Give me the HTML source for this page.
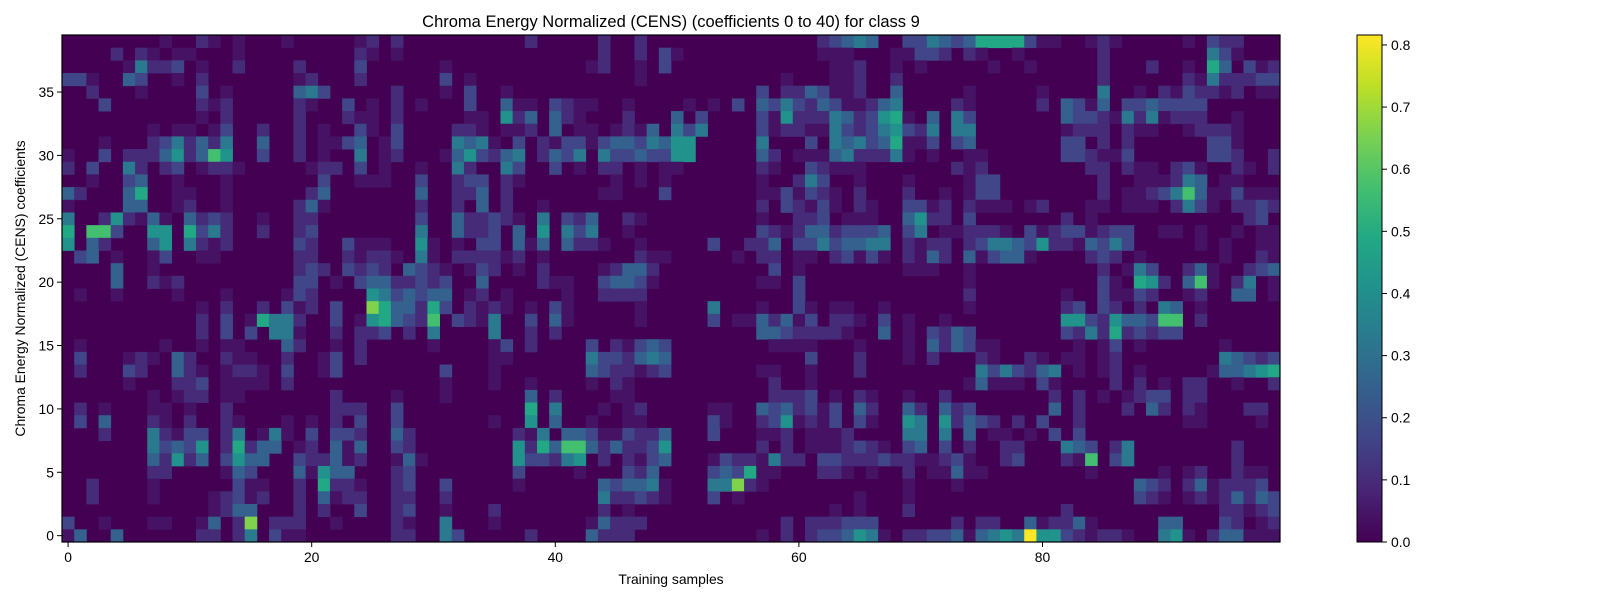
<!DOCTYPE html>
<html>
<head>
<meta charset="utf-8">
<style>
html,body{margin:0;padding:0;background:#fff;}
svg{display:block;}
text{font-family:"Liberation Sans","DejaVu Sans",sans-serif;fill:#000;}
</style>
</head>
<body>
<svg id="chart" width="1600" height="600" viewBox="0 0 1600 600" xmlns="http://www.w3.org/2000/svg">
  <text x="671" y="27" font-size="16.5" text-anchor="middle">Chroma Energy Normalized (CENS) (coefficients 0 to 40) for class 9</text>
  <g id="cells"></g>
  <rect x="62" y="35" width="1218" height="507" fill="none" stroke="#000" stroke-width="1.2"/>
  <g id="xaxis"></g>
  <g id="yaxis"></g>
  <text x="671" y="584" font-size="13.9" text-anchor="middle">Training samples</text>
  <text x="0" y="0" font-size="13.9" text-anchor="middle" transform="translate(25,288.5) rotate(-90)">Chroma Energy Normalized (CENS) coefficients</text>
  <defs>
    <linearGradient id="vgrad" x1="0" y1="1" x2="0" y2="0"></linearGradient>
  </defs>
  <rect x="1357" y="35" width="25" height="507" fill="url(#vgrad)" stroke="#000" stroke-width="1"/>
  <g id="cbaxis"></g>
</svg>
<script>
// ---- data ----
const nCols = 100;
const nRows = 40;
const vmax = 0.816;
// intensity level -> value
const levelValues = [0, 0.04, 0.1, 0.17, 0.25, 0.33, 0.41, 0.49, 0.57, 0.66, 0.815];
const xTicks = [0, 20, 40, 60, 80];
const yTicks = [0, 5, 10, 15, 20, 25, 30, 35];
const cbTicks = [0.0, 0.1, 0.2, 0.3, 0.4, 0.5, 0.6, 0.7, 0.8];
// rows listed from top (coefficient 39) to bottom (coefficient 0); "column:level"
const rowData = [
"8:1 11:2 12:1 14:1 18:1 24:1 25:2 27:2 38:2 44:2 47:2 62:2 63:3 64:4 65:5 66:4 69:3 70:3 71:5 72:4 73:3 74:4 75:7 76:7 77:7 78:7 79:3 80:1 81:1 84:1 85:2 86:1 92:1 94:3 95:2 96:2",
"4:2 6:2 7:1 9:1 10:1 14:1 24:2 25:1 27:1 44:2 47:2 49:3 50:1 62:1 63:1 64:1 68:1 69:1 70:3 71:3 72:2 74:2 75:1 78:1 85:2 94:5 95:3 96:1",
"5:1 6:5 7:2 8:2 9:3 11:1 14:2 19:2 24:3 31:1 43:1 44:2 47:1 49:3 63:1 64:1 65:2 68:1 70:1 76:1 79:1 85:2 89:2 92:1 94:7 95:4 97:3 98:1 99:2",
"0:3 1:3 2:1 5:4 6:3 9:1 11:2 19:1 20:2 24:2 31:3 33:1 47:1 59:1 63:1 64:1 65:2 68:2 85:2 92:2 93:1 94:5 95:2 96:2 97:2 98:3 99:3",
"2:2 6:1 11:3 13:1 19:4 20:5 21:3 27:2 31:1 33:3 36:1 57:3 59:2 60:2 61:4 62:3 63:1 64:1 65:2 68:4 74:1 80:1 85:5 88:1 90:2 91:1 92:3 93:2 94:2 95:1 96:2 98:1 99:1",
"3:3 11:2 12:1 13:2 19:2 20:1 23:3 25:1 27:2 29:1 33:3 36:4 37:1 38:1 40:3 41:2 42:1 43:1 46:1 51:1 53:1 55:3 57:4 58:3 59:5 60:3 61:2 62:4 63:3 64:1 65:1 66:2 67:4 68:5 73:2 74:1 80:2 82:4 83:3 84:1 85:4 87:3 88:3 89:4 90:3 91:3 92:3 93:3",
"11:1 13:2 19:2 23:2 24:1 25:1 27:2 33:1 34:1 36:6 37:2 38:4 40:4 41:2 42:1 46:2 50:4 52:3 57:3 58:1 59:6 60:2 61:2 62:2 63:5 64:4 65:2 66:3 67:6 68:7 69:1 71:4 73:5 74:3 82:4 83:3 84:3 85:2 86:1 87:5 88:2 89:5 90:1 91:2 92:2 93:2 96:1",
"7:1 9:1 10:1 12:1 13:3 16:2 19:2 21:1 24:3 25:1 27:3 32:2 33:2 34:1 36:1 37:1 38:2 40:4 42:1 43:1 45:1 46:2 47:1 48:4 50:5 51:3 52:5 57:3 58:1 59:2 60:2 61:1 62:1 63:5 64:3 65:2 66:3 67:5 68:6 69:3 70:2 71:5 73:5 74:5 82:1 83:2 84:2 85:2 87:2 88:1 89:1 92:1 93:2 94:2 95:2 96:1",
"3:1 7:2 8:3 9:5 10:2 11:4 12:2 13:5 16:4 19:2 21:1 22:1 23:3 24:4 26:1 27:3 32:5 33:4 34:5 35:1 37:3 39:2 40:1 41:3 42:3 43:1 44:3 45:4 46:4 47:3 48:5 49:4 50:6 51:6 57:5 61:3 63:5 64:4 65:5 66:3 67:4 68:7 69:1 70:1 71:3 73:3 74:4 82:3 83:3 85:2 87:2 94:3 95:3 96:1",
"0:1 3:3 5:2 6:2 7:2 8:4 9:6 10:2 11:4 12:8 13:6 16:3 19:2 21:1 24:5 26:1 27:2 31:1 32:4 33:6 34:3 35:2 36:4 37:5 39:2 40:4 41:3 42:5 44:5 45:3 46:3 47:4 48:3 49:3 50:6 51:6 57:4 58:2 60:1 61:1 62:1 63:4 64:5 65:2 66:2 67:2 68:5 69:1 71:1 74:1 75:1 82:3 83:3 84:2 85:1 86:1 87:3 94:3 95:3 96:2 99:2",
"0:2 2:3 5:5 6:2 8:2 9:3 11:1 12:2 13:2 14:1 20:1 21:2 22:2 24:3 26:1 29:1 32:5 33:2 36:5 37:3 40:3 42:1 44:2 45:2 47:1 49:1 50:1 57:2 58:1 61:3 62:2 63:1 64:1 65:1 73:2 74:1 75:2 84:2 85:2 87:2 88:1 89:1 91:2 92:3 93:1 96:2 97:1 99:2",
"2:1 5:3 6:4 9:1 13:1 21:3 24:1 25:1 26:1 29:3 32:2 33:3 34:3 36:2 37:1 45:1 47:1 49:1 57:1 60:2 61:5 62:3 65:1 69:1 74:1 75:3 76:3 85:2 88:1 89:1 90:1 91:2 92:5 93:4 95:1 96:1",
"0:4 1:2 5:4 6:7 9:1 10:1 13:1 20:2 21:4 29:4 32:2 33:2 34:4 36:2 44:1 45:1 49:3 57:1 58:1 59:3 60:1 61:3 62:2 63:1 65:2 69:2 72:1 74:1 75:3 76:3 85:2 87:1 88:1 89:2 90:3 91:5 92:8 93:4 94:1 95:1 96:3 97:1 98:1 99:1",
"0:1 5:4 6:4 9:1 10:2 13:1 19:2 20:4 21:1 29:2 32:2 34:4 36:2 39:1 57:2 59:3 60:2 61:1 62:3 63:1 65:2 66:1 69:3 70:3 71:1 72:2 74:2 75:1 76:1 77:1 79:1 80:2 84:1 85:1 87:1 88:1 89:1 91:2 92:5 93:3 94:1 96:2 97:2 98:3 99:2",
"0:5 3:2 4:6 5:2 6:1 7:4 8:1 10:4 11:2 12:3 13:2 16:1 19:2 20:2 29:3 32:4 33:2 34:2 35:3 36:2 37:1 39:5 41:3 42:2 43:4 46:2 47:1 57:1 60:2 61:2 62:3 64:1 65:1 66:1 69:4 70:6 71:2 72:2 74:3 82:2 84:1 97:2 98:3",
"0:7 2:8 3:8 4:3 7:6 8:6 10:7 11:3 12:5 13:2 16:2 19:2 20:3 29:5 32:4 33:2 34:2 35:3 37:4 39:6 41:5 42:3 43:5 46:1 57:3 58:2 59:1 60:2 61:4 62:4 63:2 64:3 65:3 66:3 67:4 69:3 70:5 72:1 73:1 74:2 75:2 76:2 77:1 79:3 80:1 81:2 82:3 83:3 84:1 85:2 86:3 87:3 90:1 91:1 93:1 96:1 98:1 99:1",
"0:6 2:4 3:2 7:4 8:6 10:5 11:2 12:1 13:2 19:3 20:2 23:3 24:1 25:1 26:1 29:6 30:1 32:1 34:3 35:3 37:4 38:1 39:4 41:4 42:2 43:2 44:1 47:1 53:3 56:2 57:2 58:4 60:3 61:3 62:5 63:3 64:4 65:4 66:5 67:5 69:2 70:1 71:2 72:2 74:2 75:3 76:5 77:5 78:4 79:3 80:6 81:2 82:2 83:1 84:4 85:3 86:5 87:3 93:1 95:1 98:1 99:1",
"1:3 2:4 4:1 7:1 8:3 11:1 12:1 19:2 20:2 23:2 24:1 25:2 26:2 27:1 29:5 30:1 32:2 33:2 34:2 35:2 36:1 37:2 39:1 47:2 48:1 49:1 55:1 57:2 58:2 60:1 61:1 63:2 64:3 65:1 66:3 67:1 69:2 70:1 71:4 72:2 74:4 75:1 76:3 77:4 78:4 79:1 84:2 85:3 86:2 88:1 95:1 98:2 99:1",
"4:4 7:1 19:2 20:3 21:2 23:3 24:2 25:3 26:2 28:4 29:3 30:2 31:1 33:1 34:3 35:2 37:1 39:2 44:1 45:2 46:4 47:4 48:2 58:3 60:1 69:1 70:1 71:1 74:1 85:2 87:1 88:5 89:3 92:2 93:4 94:1 97:2 98:3 99:4",
"4:4 7:2 8:1 9:2 19:3 20:3 22:1 24:3 25:4 26:4 27:2 28:2 29:3 30:2 31:3 34:4 39:2 40:1 41:1 44:3 45:4 46:4 47:3 48:1 57:1 58:1 60:3 74:1 85:3 86:1 88:7 89:6 90:2 92:4 93:8 94:1 96:2 97:5 99:1",
"1:1 4:1 9:1 13:1 18:1 19:3 20:2 25:6 26:5 27:3 28:4 29:3 30:4 31:4 33:1 34:2 36:1 41:1 44:2 45:2 46:2 47:2 60:3 74:2 82:1 85:3 86:1 87:1 88:3 89:2 92:1 93:2 96:4 97:4 99:1",
"11:1 13:2 16:2 18:3 19:1 20:2 22:3 25:9 26:7 27:4 28:4 29:2 30:7 31:3 33:2 34:1 35:2 36:1 38:1 40:3 41:1 47:1 53:5 57:1 60:3 61:1 63:1 64:1 67:1 74:1 82:2 83:3 85:3 86:2 88:2 90:5 91:4 93:1",
"11:2 13:3 15:1 16:7 17:5 18:5 19:2 22:3 24:1 25:6 26:7 27:4 28:3 29:2 30:8 32:3 33:2 34:1 35:5 38:3 40:4 41:1 47:1 53:3 55:1 56:1 57:4 58:2 59:4 60:1 61:3 63:2 64:2 65:1 67:3 69:1 72:1 82:6 83:6 84:3 85:2 86:6 87:4 88:4 89:3 90:8 91:8 93:2",
"11:2 13:3 15:3 17:5 18:5 19:1 22:2 24:2 25:2 26:3 28:2 30:5 35:5 38:2 40:2 57:4 58:4 59:3 60:2 61:2 62:2 63:2 64:1 67:4 69:1 71:3 72:2 73:4 74:3 82:3 83:2 84:5 85:2 86:7 87:2 88:3 89:2 90:3 91:3",
"1:1 8:1 11:1 13:1 14:1 18:4 19:2 22:1 24:2 30:1 35:1 36:3 38:2 43:3 45:2 46:1 47:3 48:4 49:3 58:1 59:1 60:1 61:1 65:1 69:1 71:4 72:2 73:4 74:3 75:1 76:1 83:1 85:1 86:3 88:1 95:1",
"1:3 5:1 6:2 7:1 9:4 10:2 13:2 14:1 15:1 18:2 21:1 22:3 24:2 35:1 36:1 43:5 44:3 45:3 46:2 47:4 48:5 49:4 61:3 65:2 69:1 71:2 75:2 76:1 79:2 80:1 82:1 83:1 85:1 86:2 95:5 96:4 97:3 98:2 99:3",
"1:2 5:3 6:2 9:4 10:2 11:1 13:1 14:2 15:2 16:1 18:3 21:1 22:3 31:3 35:1 43:4 44:3 45:2 46:2 47:1 48:2 49:3 57:1 58:1 61:1 65:2 75:5 76:3 77:5 78:3 79:2 80:4 81:5 83:1 85:1 86:2 88:1 94:1 95:4 96:4 97:5 98:6 99:7",
"5:1 9:2 10:2 11:3 13:1 14:1 15:1 16:1 18:2 31:1 35:1 38:1 43:1 45:2 46:1 58:2 61:1 74:1 75:4 76:1 77:1 78:1 80:3 81:1 86:2 88:2 90:1 92:2 93:2 96:1 99:2",
"7:1 9:1 10:2 11:2 13:1 14:1 22:2 27:1 31:1 38:4 40:2 45:1 46:1 58:2 59:2 60:2 61:3 63:1 65:2 66:1 69:1 72:2 81:2 83:2 85:1 87:1 88:2 89:3 90:3 92:2 93:2",
"1:2 3:1 7:1 8:1 10:1 13:2 22:2 23:2 24:2 27:3 38:7 40:5 44:1 46:1 47:2 53:1 54:1 57:4 58:3 59:4 60:2 61:3 62:1 63:3 65:4 66:2 69:4 70:2 72:4 73:2 74:3 81:4 83:2 87:2 89:4 90:2 92:2 93:1 97:2 98:2",
"1:3 3:4 7:2 8:1 10:2 13:2 14:1 18:1 20:1 22:2 24:3 27:3 35:1 38:6 40:4 43:1 46:1 47:1 53:3 54:1 57:2 58:3 59:6 60:1 61:2 62:1 63:3 65:3 66:1 69:6 70:5 72:6 73:2 74:4 75:3 76:2 78:2 80:3 83:2 92:1 93:1 98:1",
"3:2 7:5 8:2 9:1 10:3 11:3 13:2 14:5 16:1 17:5 18:1 20:3 22:3 23:3 24:2 27:4 28:2 37:2 38:1 39:5 41:4 42:4 43:3 44:1 45:1 46:3 47:2 48:2 49:4 53:3 57:1 58:1 59:2 61:1 62:1 63:1 64:2 69:5 70:5 72:5 74:4 76:1 77:1 79:1 81:3 83:3",
"7:5 8:3 9:4 10:3 11:6 13:2 14:7 15:2 16:4 17:4 19:1 20:2 22:4 23:1 24:4 27:3 28:2 37:6 38:2 39:7 40:4 41:8 42:8 43:4 44:2 45:4 46:2 47:2 48:3 49:6 57:2 59:2 61:1 62:1 63:1 64:2 65:3 66:2 67:1 69:3 70:4 72:3 74:2 77:2 78:2 82:5 83:4 84:3 86:2 87:5 96:2",
"7:4 8:2 9:6 10:2 11:4 13:3 14:6 15:4 16:4 19:3 20:2 21:2 22:4 23:1 24:2 27:1 28:4 29:1 37:6 38:3 39:3 40:2 41:5 42:6 44:2 46:2 47:1 48:3 49:4 53:1 54:3 55:2 56:2 57:1 58:5 59:2 60:2 62:3 63:3 64:2 65:2 66:2 67:3 68:2 69:2 70:1 71:1 72:2 73:3 74:1 77:2 78:3 82:2 83:1 84:8 86:3 87:5 96:2",
"7:2 8:2 13:1 14:4 15:3 19:4 20:1 21:6 22:4 23:4 27:2 28:3 37:3 42:1 46:3 47:2 48:4 53:3 54:4 55:3 56:7 57:1 58:1 62:2 63:2 64:1 66:1 69:2 71:1 72:1 73:4 74:1 75:1 84:1 90:1 92:1 93:2 96:2 97:1 98:1",
"2:2 7:1 14:3 15:1 16:1 19:2 21:7 22:2 23:2 24:1 27:2 28:3 31:3 37:1 44:4 45:3 46:4 47:4 48:5 49:1 53:5 54:5 55:9 56:2 57:1 69:1 73:1 88:4 89:3 90:2 92:2 93:4 94:1 95:2 96:2 97:2 98:3",
"2:2 7:1 12:1 13:2 14:3 15:1 16:2 19:2 21:4 22:1 23:2 24:2 27:2 28:2 31:2 44:5 45:2 46:2 47:3 48:2 49:1 53:3 55:1 65:1 69:1 88:3 89:2 90:1 92:1 93:2 94:1 95:2 96:4 97:2 98:4 99:3",
"12:1 13:2 14:4 15:4 19:2 21:2 24:3 27:2 28:3 31:1 35:2 44:2 46:1 63:1 65:1 69:2 82:2 95:2 96:2 97:1 98:2 99:3",
"0:3 3:1 7:1 8:1 11:1 12:4 14:2 15:9 17:2 18:2 19:2 22:1 27:2 28:1 31:5 35:1 43:1 44:4 45:2 46:2 47:2 59:2 61:2 62:2 63:2 64:3 65:3 66:3 73:2 75:2 76:2 79:4 80:1 81:2 82:2 83:4 84:1 90:4 91:4 95:3 96:2 98:1 99:2",
"0:1 1:4 4:4 11:2 12:2 14:2 15:5 17:3 18:1 19:1 27:2 28:2 31:5 32:3 38:2 43:4 44:2 45:2 46:2 57:1 59:2 61:2 62:3 63:3 64:4 65:6 66:5 67:1 69:2 70:2 71:3 72:3 73:4 74:1 75:4 76:5 77:6 78:5 79:10 80:6 81:6 82:3 83:2 84:1 85:2 86:2 87:1 90:5 91:6 92:1 94:2 95:4 96:4 97:1 98:1 99:1"
];

// ---- geometry ----
const plotL = 62, plotT = 35, plotW = 1218, plotH = 507;
const cw = plotW / nCols, ch = plotH / nRows;
function xPos(col){ return plotL + col * cw; }             // left edge of column
function xCenter(col){ return plotL + (col + 0.5) * cw; }
function yTop(row){ return plotT + plotH - (row + 1) * ch; } // row 0 at bottom
function yCenter(row){ return plotT + plotH - (row + 0.5) * ch; }

const vStops = ["#440154","#482475","#414487","#355f8d","#2a788e","#21918c","#22a884","#44bf70","#7ad151","#bddf26","#fde725"];
function hex2rgb(h){ return [parseInt(h.slice(1,3),16),parseInt(h.slice(3,5),16),parseInt(h.slice(5,7),16)]; }
const vRGB = vStops.map(hex2rgb);
function viridis(t){
  t = Math.max(0, Math.min(1, t));
  const p = t * 10, i = Math.min(9, Math.floor(p)), f = p - i;
  const a = vRGB[i], b = vRGB[i+1];
  return "rgb(" + [0,1,2].map(k => Math.round(a[k] + (b[k]-a[k]) * f)).join(",") + ")";
}

const NS = "http://www.w3.org/2000/svg";
const cells = document.getElementById("cells");

// background: all cells at value 0
const bg = document.createElementNS(NS, "rect");
bg.setAttribute("x", plotL); bg.setAttribute("y", plotT);
bg.setAttribute("width", plotW); bg.setAttribute("height", plotH);
bg.setAttribute("fill", viridis(0));


cells.appendChild(bg);

rowData.forEach((str, j) => {
  const row = nRows - 1 - j;
  str.trim().split(/\s+/).forEach(tok => {
    const parts = tok.split(":");
    const col = +parts[0], lvl = +parts[1];
    const val = levelValues[lvl];
    if (!val) return;
    const r = document.createElementNS(NS, "rect");
    r.setAttribute("x", xPos(col).toFixed(2));
    r.setAttribute("y", yTop(row).toFixed(2));
    r.setAttribute("width", (cw + 0.4).toFixed(2));
    r.setAttribute("height", (ch + 0.4).toFixed(2));
    r.setAttribute("fill", viridis(val / vmax));
    
    
    cells.appendChild(r);
  });
});

// x axis
const xaxis = document.getElementById("xaxis");
xTicks.forEach(t => {
  const x = xCenter(t);
  const l = document.createElementNS(NS, "line");
  l.setAttribute("x1", x); l.setAttribute("x2", x);
  l.setAttribute("y1", plotT + plotH); l.setAttribute("y2", plotT + plotH + 5);
  l.setAttribute("stroke", "#000"); l.setAttribute("stroke-width", "1");
  
  
  xaxis.appendChild(l);
  const tx = document.createElementNS(NS, "text");
  tx.setAttribute("x", x); tx.setAttribute("y", plotT + plotH + 20);
  tx.setAttribute("font-size", "13.9"); tx.setAttribute("text-anchor", "middle");
  tx.textContent = t;
  
  
  xaxis.appendChild(tx);
});

// y axis
const yaxis = document.getElementById("yaxis");
yTicks.forEach(t => {
  const y = yCenter(t);
  const l = document.createElementNS(NS, "line");
  l.setAttribute("x1", plotL - 5); l.setAttribute("x2", plotL);
  l.setAttribute("y1", y); l.setAttribute("y2", y);
  l.setAttribute("stroke", "#000"); l.setAttribute("stroke-width", "1");
  
  
  yaxis.appendChild(l);
  const tx = document.createElementNS(NS, "text");
  tx.setAttribute("x", plotL - 8); tx.setAttribute("y", y + 5);
  tx.setAttribute("font-size", "13.9"); tx.setAttribute("text-anchor", "end");
  tx.textContent = t;
  
  
  yaxis.appendChild(tx);
});

// colorbar
const grad = document.getElementById("vgrad");
vStops.forEach((c, i) => {
  const s = document.createElementNS(NS, "stop");
  s.setAttribute("offset", (i * 10) + "%");
  s.setAttribute("stop-color", c);
  grad.appendChild(s);
});
const cbaxis = document.getElementById("cbaxis");
const cbL = 1382, cbT = 35, cbH = 507;
cbTicks.forEach(v => {
  const y = cbT + cbH - v / vmax * cbH;
  const l = document.createElementNS(NS, "line");
  l.setAttribute("x1", cbL); l.setAttribute("x2", cbL + 5);
  l.setAttribute("y1", y); l.setAttribute("y2", y);
  l.setAttribute("stroke", "#000"); l.setAttribute("stroke-width", "1");
  
  
  cbaxis.appendChild(l);
  const tx = document.createElementNS(NS, "text");
  tx.setAttribute("x", cbL + 9); tx.setAttribute("y", y + 5);
  tx.setAttribute("font-size", "13.9");
  tx.textContent = v.toFixed(1);
  
  
  cbaxis.appendChild(tx);
});
</script>
</body>
</html>
